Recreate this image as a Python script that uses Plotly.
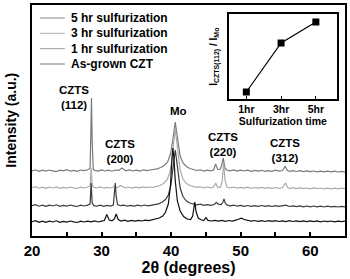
import plotly.graph_objects as go

# ---- XRD patterns (2theta, stacked intensity in a.u.) ----
x_5hr = [20,20.5,21,21.5,22,22.5,23,23.5,24,24.5,25,25.5,26,26.5,27,27.5,28,28.35,28.45,28.55,28.65,28.8,29,29.5,30,30.5,31,31.5,32,32.5,32.9,33.2,33.5,34,34.5,35,35.5,36,36.5,37,37.5,38,38.5,39,39.5,39.9,40.2,40.45,40.6,40.75,41,41.3,41.7,42.2,42.7,43.2,43.7,44.2,44.7,45.2,45.7,46.1,46.4,46.7,47.0,47.25,47.5,47.75,48,48.5,49,49.5,50,50.5,51,51.5,52,52.5,53,53.5,54,54.5,55,55.5,56,56.4,56.7,57,57.5,58,58.5,59,59.5,60,60.5,61,61.5,62,62.5,63,63.5,64,64.5,65]
y_5hr = [65.0,66.2,64.6,65.8,64.9,66.0,65.2,64.4,65.9,65.1,66.3,64.8,65.6,64.6,66.0,65.3,66.2,67.5,100,138,95,67,65.6,64.9,66.1,65.0,65.9,64.8,66.0,65.6,68,66.5,65.2,66.1,65.0,65.8,64.9,66.2,65.3,66.0,66.4,67.2,68.5,70.5,74,82,94,108,114,106,92,80,73,69.5,67.5,66.6,65.5,66.2,65.0,65.9,65.2,66,72,66.5,66.5,70,78,68,66,65.2,66.1,64.9,65.8,65.0,65.9,64.7,65.6,64.8,65.7,64.6,65.4,64.7,65.8,64.9,65.5,69.5,65.8,64.6,65.4,64.5,65.3,64.4,65.2,64.3,65.0,64.2,64.9,64.1,64.9,64.2,64.8,64.0,64.7,64.2]

x_3hr = [20,20.5,21,21.5,22,22.5,23,23.5,24,24.5,25,25.5,26,26.5,27,27.5,28,28.35,28.5,28.65,28.9,29.3,29.8,30.3,30.8,31.3,31.8,32.3,32.7,33.0,33.4,33.9,34.4,34.9,35.4,35.9,36.4,36.9,37.4,37.9,38.4,38.9,39.4,39.8,40.1,40.4,40.6,40.75,41,41.3,41.7,42.2,42.7,43.2,43.7,44.2,44.7,45.2,45.7,46.1,46.4,46.7,47.1,47.35,47.55,47.75,48,48.5,49,49.5,50,50.5,51,51.5,52,52.5,53,53.5,54,54.5,55,55.5,56,56.45,56.75,57,57.5,58,58.5,59,59.5,60,60.5,61,61.5,62,62.5,63,63.5,64,64.5,65]
y_3hr = [48.2,49.3,47.8,48.9,47.6,48.8,48.0,49.1,47.7,48.6,47.9,49.0,48.1,47.5,48.8,48.0,49.0,50,68,51,48.6,48.0,49.1,47.8,48.7,48.0,49.2,48.3,50.5,49.5,48.2,49.0,47.9,48.8,48.1,49.1,48.3,49.0,48.6,49.6,50.5,52.5,56,63,75,95,108,98,80,66,57,52.5,50.5,49.4,48.6,49.2,48.1,49.0,48.2,48.9,53,48.5,48.8,55,73,56,49,48.2,49.0,47.9,48.7,47.8,48.8,47.7,48.5,47.8,48.6,47.6,48.4,47.7,48.5,47.6,48.2,53,48.6,47.5,48.3,47.4,48.2,47.3,48.0,47.2,48.1,47.3,48.0,47.2,47.9,47.1,47.8,47.2,47.9,47.3]

x_1hr = [20,20.5,21,21.5,22,22.5,23,23.5,24,24.5,25,25.5,26,26.5,27,27.5,28,28.35,28.5,28.65,28.9,29.3,29.8,30.3,30.8,31.3,31.7,31.85,31.97,32.1,32.3,32.7,33.2,33.7,34.2,34.7,35.2,35.7,36.2,36.7,37.2,37.7,38.2,38.7,39.2,39.6,39.95,40.2,40.45,40.6,40.75,41,41.3,41.7,42.2,42.7,43.2,43.7,44.2,44.7,45.2,45.7,46.2,46.5,46.8,47.2,47.45,47.6,47.8,48.1,48.5,49,49.5,50,50.5,51,51.5,52,52.5,53,53.5,54,54.5,55,55.5,56,56.5,57,57.5,58,58.5,59,59.5,60,60.5,61,61.5,62,62.5,63,63.5,64,64.5,65]
y_1hr = [30.3,31.4,29.8,30.9,29.6,30.8,30.0,31.2,29.7,30.6,29.9,31.0,30.1,29.5,30.8,30.0,30.9,32,53,33,30.4,29.8,30.9,29.7,30.6,29.9,31.0,40,53,40,31.5,30.3,30.9,29.8,30.7,29.9,30.8,30.0,31.0,30.2,30.9,31.3,32.2,33.8,36.5,41,50,64,80,86,78,62,48,39.5,35,33,32,31.2,31.8,30.7,31.4,30.6,31.5,33.5,31.8,31.4,34,37,32.5,30.8,30.2,30.9,29.8,30.6,29.7,30.5,29.6,30.4,29.7,30.5,29.6,30.3,29.5,30.4,29.6,30.2,30.9,29.5,30.2,29.3,30.1,29.2,30.0,29.2,30.0,29.1,29.9,29.0,29.8,29.1,29.7,29.0,29.7,29.2]

x_asg = [20,20.5,21,21.5,22,22.5,23,23.5,24,24.5,25,25.5,26,26.5,27,27.5,28,28.5,29,29.5,30,30.4,30.75,31.1,31.5,31.85,32.1,32.4,32.8,33.3,33.8,34.3,34.8,35.3,35.8,36.3,36.8,37.3,37.8,38.3,38.8,39.2,39.6,39.9,40.1,40.25,40.4,40.6,40.9,41.3,41.8,42.3,42.8,43.1,43.4,43.6,43.9,44.3,44.7,45.0,45.3,45.8,46.3,46.8,47.3,47.8,48.3,48.8,49.3,49.8,50.1,50.5,51,51.5,52,52.5,53,53.5,54,54.5,55,55.5,56,56.5,57,57.5,58,58.5,59,59.5,60,60.5,61,61.5,62,62.5,63,63.5,64,64.5,65]
y_asg = [14.2,15.4,13.7,14.9,13.6,14.8,14.0,15.2,13.7,14.6,13.9,15.0,14.1,13.5,14.8,14.0,14.9,14.2,15.1,14.0,14.8,15.5,21.5,16,15.2,17,22,16.5,15.0,15.8,14.7,15.6,14.8,15.7,15.0,15.9,15.3,16.2,16.8,18,20,24,32,50,75,88,78,55,35,25,19.5,17,16.5,20,34,24,18,16.2,15.5,18.5,15.6,15.0,15.7,14.8,15.6,14.7,15.5,14.9,15.8,16.6,17.8,16.5,15.6,14.8,15.5,14.6,15.4,14.5,15.3,14.6,15.4,14.5,15.2,14.4,15.3,14.5,15.2,14.3,15.1,14.4,15.2,14.3,15.1,14.2,15.0,14.3,15.0,14.2,14.9,14.3,14.8]

series_names = ["5 hr sulfurization", "3 hr sulfurization", "1 hr sulfurization", "As-grown CZT"]
series_x = [x_5hr, x_3hr, x_1hr, x_asg]
series_y = [y_5hr, y_3hr, y_1hr, y_asg]
series_colors = ["#7a7a7a", "#ababab", "#3c3c3c", "#111111"]
legend_colors = ["#8a8a8a", "#b0b0b0", "#999999", "#777777"]

# ---- inset: intensity ratio vs sulfurization time ----
inset_cats = ["1hr", "3hr", "5hr"]
inset_vals = [0.33, 2.64, 3.62]

peak_labels = ["CZTS<br>(112)", "CZTS<br>(200)", "Mo", "CZTS<br>(220)", "CZTS<br>(312)"]
peak_label_x = [26.1, 32.6, 41.1, 47.4, 56.4]
peak_label_y = [139, 85, 125, 92, 85.5]

FONT = "Liberation Sans, Arial, sans-serif"
PW, PH, PL, PB = 315.0, 231.0, 32.0, 236.0


def px_x(p):
    return (p - PL) / PW


def px_y(p):
    return (PB - p) / PH


fig = go.Figure()
for name, xs, ys, c in zip(series_names, series_x, series_y, series_colors):
    fig.add_trace(go.Scatter(x=xs, y=ys, mode="lines", name=name, showlegend=False,
                             line=dict(color=c, width=1.2)))

fig.add_trace(go.Scatter(x=inset_cats, y=inset_vals, mode="lines+markers",
                         xaxis="x2", yaxis="y2", showlegend=False,
                         line=dict(color="black", width=1.2),
                         marker=dict(symbol="square", size=7, color="black")))

# legend drawn as line samples + texts (compact row spacing like the original)
legend_rows_px = [18, 33.3, 48.7, 64]
for name, lc, ry in zip(series_names, legend_colors, legend_rows_px):
    fig.add_shape(type="line", xref="paper", yref="paper",
                  x0=px_x(40), x1=px_x(65), y0=px_y(ry), y1=px_y(ry),
                  line=dict(color=lc, width=1))
    fig.add_annotation(x=px_x(69), y=px_y(ry), xref="paper", yref="paper", text=name,
                       showarrow=False, xanchor="left", yanchor="middle",
                       font=dict(size=12, family=FONT, color="black", weight="bold"))

for t, px, py in zip(peak_labels, peak_label_x, peak_label_y):
    fig.add_annotation(x=px, y=py, xref="x", yref="y", text=t, showarrow=False,
                       font=dict(size=11.5, family=FONT, color="black", weight="bold"),
                       xanchor="center", yanchor="middle")

# axis titles
fig.add_annotation(x=px_x(10), y=0.5, xref="paper", yref="paper", text="Intensity (a.u.)",
                   textangle=-90, showarrow=False, xanchor="center", yanchor="middle",
                   font=dict(size=14, family=FONT, color="black", weight="bold"))
fig.add_annotation(x=px_x(215), y=px_y(57), xref="paper", yref="paper",
                   text="I<sub>CZTS(112)</sub> / I<sub>Mo</sub>",
                   textangle=-90, showarrow=False, xanchor="center", yanchor="middle",
                   font=dict(size=10, family=FONT, color="black", weight="bold"))

fig.update_layout(
    width=350, height=279,
    margin=dict(l=32, r=3, t=5, b=43),
    paper_bgcolor="white", plot_bgcolor="white",
    font=dict(family=FONT, color="black", weight="bold"),
    showlegend=False,
    xaxis=dict(range=[20, 65], dtick=10, tick0=20, ticks="inside", ticklen=4, tickwidth=1.5,
               tickcolor="black", showline=True, linecolor="black", linewidth=2, mirror=True,
               showgrid=False, zeroline=False,
               minor=dict(dtick=5, ticks="inside", ticklen=4, tickwidth=1.5, tickcolor="black"),
               tickfont=dict(size=15, family=FONT, weight="bold"),
               title=dict(text="2θ (degrees)", font=dict(size=16, family=FONT, weight="bold"),
                          standoff=4)),
    yaxis=dict(range=[0, 231], showticklabels=False, ticks="", showline=True, linecolor="black",
               linewidth=2, mirror=True, showgrid=False, zeroline=False),
    xaxis2=dict(domain=[px_x(230), px_x(339)], anchor="y2", type="category",
                range=[-0.506, 2.61], showline=True, linecolor="black", linewidth=1.5, mirror=True,
                ticks="inside", ticklen=3, tickcolor="black", showgrid=False, zeroline=False,
                tickfont=dict(size=10.5, family=FONT, weight="bold"),
                title=dict(text="Sulfurization time", font=dict(size=10.5, family=FONT, weight="bold"),
                           standoff=2)),
    yaxis2=dict(domain=[px_y(99), px_y(14)], anchor="x2", range=[0, 4],
                showticklabels=False, ticks="", showline=True, linecolor="black", linewidth=1.5,
                mirror=True, showgrid=False, zeroline=False),
)

fig.write_html("out.html")
